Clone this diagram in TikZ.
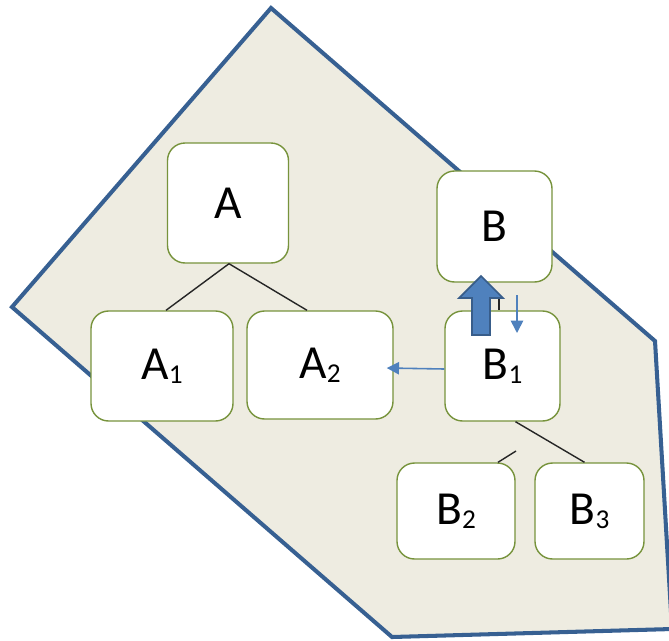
\documentclass[tikz,border=0pt]{standalone}
\usepackage{fontspec}
\setmainfont{Carlito}
\usetikzlibrary{calc,arrows.meta}
\definecolor{paper}{RGB}{238,236,225}
\definecolor{edgeblue}{RGB}{55,96,146}
\definecolor{boxgreen}{RGB}{119,147,60}
\definecolor{arrowblue}{RGB}{79,129,189}
\definecolor{arrowdark}{RGB}{56,93,138}
\newcommand{\lowidx}[1]{\raisebox{-2.3pt}{\fontsize{15.5}{18}\selectfont #1}}
\tikzset{
	box/.style 2 args={draw=boxgreen, line width=0.8pt, fill=white, rounded corners=10pt,
		minimum width={#1*0.02cm}, minimum height={#2*0.02cm}, inner sep=0pt,
		font=\fontsize{27}{32}\selectfont},
	tree/.style={line width=0.8pt, black!85},
	thinarrow/.style={line width=0.9pt, arrowblue, -{Triangle[length=7pt, width=7pt]}}
}

\begin{document}
\begin{tikzpicture}[x=0.02cm, y=-0.02cm]
	%%%%% START %%%%%
	\useasboundingbox (0, 0) rectangle (669, 640);
	
	% region
	\draw[line width=2.3pt, draw=edgeblue, fill=paper] (271, 8) -- (655, 341) -- (672, 629)
		-- (392, 637) -- (12, 307) -- cycle;
	
	\node[box={121}{120}] (A) at (228, 203) {A};
	\node[box={115}{111}] (B) at (494.5, 226.5) {B};
	\node[box={142}{110}] (A1) at (162, 366) {A\lowidx{1}};
	\node[box={146}{108}] (A2) at (320, 365) {A\lowidx{2}};
	\node[box={115}{110}] (B1) at (502.5, 366) {B\lowidx{1}};
	\node[box={118}{96}] (B2) at (456, 511) {B\lowidx{2}};
	\node[box={109}{96}] (B3) at (589.5, 511) {B\lowidx{3}};
	
	\draw[tree] ($(A.south)+(1, 0)$) -- ($(A1.north)+(4, 0)$);
	\draw[tree] ($(A.south)+(1, 0)$) -- ($(A2.north)+(-13, 0)$);
	\draw[tree] ($(B1.south)+(13, 0)$) -- ($(B3.north)+(-5, 0)$);
	\coordinate (stub) at (516, 451);
	\draw[tree] (stub) -- ($(B2.north)+(42, 0)$);
	\coordinate (elb) at (489, 297);
	\draw[tree] (elb) -| ($(B1.north)+(-3.5, 0)$);
	
	\draw[thinarrow] ($(B1.west)+(0, 3)$) -- ($(A2.east)+(-7, 3)$);
	\coordinate (dtop) at (517, 295);
	\coordinate (dbot) at (517, 333);
	\draw[thinarrow] (dtop) -- (dbot);
	
	% block arrow B1 -> B
	\draw[line width=1pt, draw=arrowdark, fill=arrowblue] (472, 335) -- (472, 298) -- (459, 298)
		-- (481, 276) -- (503, 298) -- (490, 298) -- (490, 335) -- cycle;
	
	%%%%% END %%%%%
\end{tikzpicture}
\end{document}
